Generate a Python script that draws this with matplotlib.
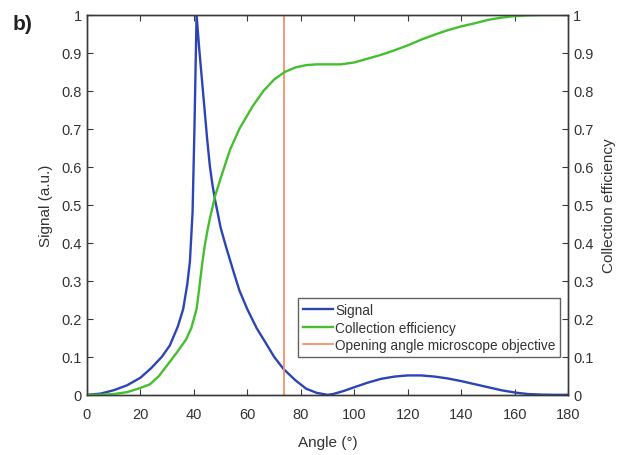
import matplotlib
matplotlib.use("Agg")
import matplotlib.pyplot as plt
from matplotlib.ticker import FuncFormatter, MultipleLocator

plt.rcParams["font.family"] = ["Liberation Sans", "DejaVu Sans"]

# ── data ──────────────────────────────────────────────────────────────────────
signal_angle = [0, 5, 10, 15, 20, 24, 28, 31, 34, 36, 37.5, 38.5, 39.5, 40.2,
                41, 42, 43, 44, 45, 46, 47, 48, 50, 52, 55, 57, 60, 63.5, 67,
                70, 73.5, 78, 82, 86, 90, 92, 96, 100, 105, 110, 115, 120, 125,
                130, 135, 140, 145, 150, 155, 160, 165, 170, 175, 180]
signal_value = [0, 0.003, 0.012, 0.025, 0.045, 0.07, 0.1, 0.13, 0.18, 0.226,
                0.29, 0.35, 0.48, 0.7, 1.0, 0.91, 0.83, 0.75, 0.67, 0.6, 0.55,
                0.51, 0.44, 0.39, 0.32, 0.275, 0.225, 0.175, 0.135, 0.1, 0.068,
                0.038, 0.016, 0.005, 0, 0.002, 0.01, 0.02, 0.032, 0.042, 0.048,
                0.051, 0.051, 0.048, 0.043, 0.036, 0.028, 0.02, 0.012, 0.006,
                0.002, 0.0005, 0, 0]

coll_angle = [0, 5, 10, 15, 20, 23.6, 27, 31, 34, 37, 39, 41, 42, 43, 44, 45,
              46, 48, 50, 53.5, 57, 62, 66, 70, 74, 78, 82, 86, 90, 95, 100,
              105, 110, 115, 120, 125, 130, 135, 140, 145, 150, 155, 160, 165,
              170, 180]
coll_value = [0, 0, 0.002, 0.007, 0.018, 0.028, 0.05, 0.087, 0.115, 0.145,
              0.175, 0.226, 0.28, 0.34, 0.39, 0.43, 0.465, 0.525, 0.57, 0.645,
              0.7, 0.76, 0.8, 0.83, 0.85, 0.862, 0.868, 0.87, 0.87, 0.87,
              0.875, 0.885, 0.895, 0.907, 0.92, 0.935, 0.948, 0.96, 0.97,
              0.978, 0.987, 0.993, 0.997, 0.999, 1.0, 1.0]

opening_angle = 73.7

BLUE = "#2d44b5"
GREEN = "#45bf30"
ORANGE = "#f2936c"
AXC = "#3a3a3a"

fig = plt.figure(figsize=(6.3, 4.56), dpi=100)
ax = fig.add_axes([0.138, 0.132, 0.764, 0.833])
ax2 = ax.twinx()

h1, = ax.plot(signal_angle, signal_value, color=BLUE, lw=1.7, label="Signal")
h2, = ax2.plot(coll_angle, coll_value, color=GREEN, lw=1.7,
               label="Collection efficiency")
h3 = ax.axvline(opening_angle, color=ORANGE, lw=1.3,
                label="Opening angle microscope objective")

fmt = FuncFormatter(lambda v, _: f"{v:g}")
for a in (ax, ax2):
    a.set_xlim(0, 180)
    a.set_ylim(0, 1)
    a.yaxis.set_major_locator(MultipleLocator(0.1))
    a.yaxis.set_major_formatter(fmt)
    for s in a.spines.values():
        s.set_color(AXC)
        s.set_linewidth(1.0)
    a.tick_params(direction="in", length=4, width=0.8, colors=AXC,
                  labelsize=10.5, labelcolor="#333333")
ax.xaxis.set_major_locator(MultipleLocator(20))
ax.tick_params(axis="x", top=True, pad=9)

ax.set_xlabel("Angle (°)", fontsize=11, color="#333333", labelpad=10)
ax.set_ylabel("Signal (a.u.)", fontsize=11, color="#333333", labelpad=6)
ax2.set_ylabel("Collection efficiency", fontsize=11, color="#333333",
               labelpad=6)

leg = ax.legend(handles=[h1, h2, h3], loc="lower right",
                bbox_to_anchor=(0.983, 0.1), fontsize=9.8, frameon=True,
                fancybox=False, handlelength=2.2, handletextpad=0.15,
                borderpad=0.35, labelspacing=0.25, borderaxespad=0)
leg.get_frame().set_edgecolor(AXC)
leg.get_frame().set_linewidth(1.0)
for t in leg.get_texts():
    t.set_color("#333333")

fig.text(0.02, 0.935, "b)", fontsize=15, fontweight="bold", color="#222222")

fig.savefig("out.png", dpi=100)
